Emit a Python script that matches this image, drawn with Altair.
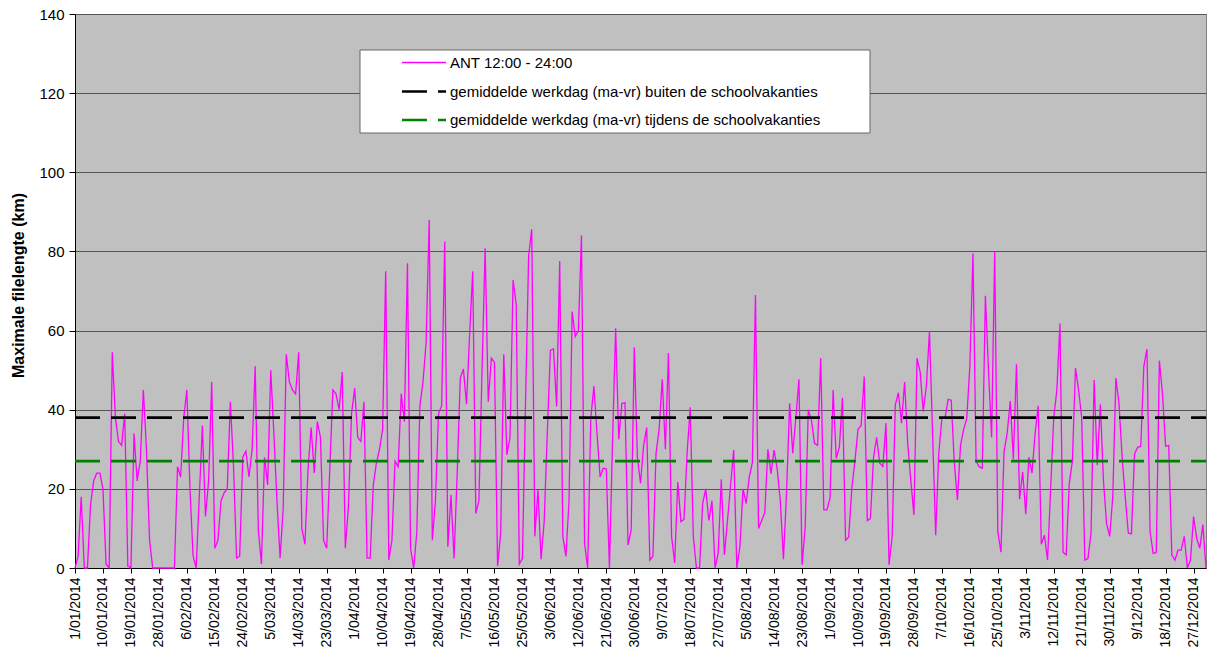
import altair as alt
import pandas as pd

# Daily maximum queue length (km), Antwerp 12:00 - 24:00, 2014, per month
ant_jan = [0, 3, 18, 0, 0, 16, 22, 24, 24, 20, 1, 0, 54.5, 38, 32, 31, 39, 0.5, 0, 34,
           22, 27, 45, 30, 7, 0, 0, 0, 0, 0, 0]
ant_feb = [0, 0, 25.6, 23, 38, 45, 20, 3, 0, 18, 36, 13, 22, 47, 5, 7, 17, 19, 20, 42,
           26, 2.5, 3, 28, 29.5, 23, 30, 51]
ant_mar = [9.6, 1, 28, 21, 50, 34, 17, 2.5, 15, 54, 47, 45, 44, 54.5, 10, 6, 25, 35.5, 24, 37,
           33, 7, 5, 25, 45, 44, 40, 49.5, 5, 15.5, 39]
ant_apr = [45.4, 33, 32, 42, 2.5, 2.5, 21, 26.5, 30, 35, 75, 2, 7, 27, 25.6, 44, 37, 77, 5, 0,
           9, 41, 47, 57, 88, 7, 17, 39, 41, 82.5]
ant_may = [5.4, 18.5, 2.4, 24, 48, 50.3, 41.4, 59, 75, 13.8, 17, 50, 80.8, 42, 53, 52, 0.5, 8.8, 54, 28.6,
           33, 72.8, 66.5, 1, 2.4, 42, 79, 85.6, 8, 19.7, 2.2]
ant_jun = [11.7, 34, 55, 55.4, 40.8, 77.6, 8, 2.9, 17, 64.8, 58.5, 60, 84, 6.2, 0, 37.8, 46, 34, 23, 25.2,
           25, 0, 32, 60.6, 32.5, 41.6, 41.8, 5.8, 9.6, 55.8]
ant_jul = [28, 21.4, 31, 35.5, 2, 3, 29, 35, 47.7, 30, 54.3, 8, 1.3, 21.7, 11.7, 12.3, 29, 40.6, 8, 0,
           0, 16.3, 20, 12, 17, 0, 3.7, 22.4, 3.3, 12, 21]
ant_aug = [29.8, 0, 5.4, 20, 16.3, 23, 26.6, 69, 10, 12, 14, 30, 23.8, 29.8, 25, 17, 2.2, 19, 41.6, 29,
           38, 47.7, 0.8, 10.4, 40, 37.4, 31.5, 31, 53, 14.7, 14.7]
ant_sep = [17.6, 45, 27.7, 30.5, 43, 7, 7.8, 20, 27, 35, 36, 48.4, 12, 12.5, 28, 33, 26.5, 25.6, 36.6, 0.8,
           8, 41.2, 44.3, 36.6, 47, 31.5, 22, 13.4, 53, 49.6]
ant_oct = [39.5, 46, 59.7, 34, 8.3, 29, 37.8, 37.8, 42.6, 42.4, 26.5, 17.2, 31, 35, 37.8, 51, 79.5, 27, 25.6, 25.2,
           68.8, 50, 33, 80, 9.2, 4, 29.4, 34, 42.2, 27.5, 51.5]
ant_nov = [17.4, 24.3, 13.6, 28, 24, 34, 41, 6, 8.3, 2, 20, 38, 45, 61.8, 4, 3.3, 21.4, 27, 50.5, 45,
           38, 2, 2.4, 8.8, 47.5, 26, 41.4, 22, 11.3, 8]
ant_dec = [18, 48, 41.6, 28, 18, 8.8, 8.6, 28.8, 30.5, 30.7, 51, 55.3, 9.2, 3.7, 3.9, 52.4, 44, 30.8, 31, 3.3,
           2, 4.5, 4.5, 8, 0, 2, 13, 7.5, 5, 11, 0]

# Average working day (Mon-Fri) levels
avg_outside_holidays = 38
avg_during_holidays = 27

series_names = [
    "ANT 12:00 - 24:00",
    "gemiddelde werkdag (ma-vr) buiten de schoolvakanties",
    "gemiddelde werkdag (ma-vr) tijdens de schoolvakanties",
]
series_colors = ["#FF00FF", "#000000", "#008000"]
series_dashes = [[1, 0], [25, 11], [25, 11]]
series_widths = [1.3, 2.7, 2.7]

tick_labels = [
    "1/01/2014", "10/01/2014", "19/01/2014", "28/01/2014", "6/02/2014", "15/02/2014",
    "24/02/2014", "5/03/2014", "14/03/2014", "23/03/2014", "1/04/2014", "10/04/2014",
    "19/04/2014", "28/04/2014", "7/05/2014", "16/05/2014", "25/05/2014", "3/06/2014",
    "12/06/2014", "21/06/2014", "30/06/2014", "9/07/2014", "18/07/2014", "27/07/2014",
    "5/08/2014", "14/08/2014", "23/08/2014", "1/09/2014", "10/09/2014", "19/09/2014",
    "28/09/2014", "7/10/2014", "16/10/2014", "25/10/2014", "3/11/2014", "12/11/2014",
    "21/11/2014", "30/11/2014", "9/12/2014", "18/12/2014", "27/12/2014",
]
y_ticks = [0, 20, 40, 60, 80, 100, 120, 140]

ant_values = (ant_jan + ant_feb + ant_mar + ant_apr + ant_may + ant_jun +
              ant_jul + ant_aug + ant_sep + ant_oct + ant_nov + ant_dec)
dates = [d.strftime("%Y-%m-%d") for d in
         pd.date_range("2014-01-01", periods=len(ant_values), freq="D")]

rows = [{"date": d, "km": v, "series": series_names[0]} for d, v in zip(dates, ant_values)]
for name, level in [(series_names[1], avg_outside_holidays),
                    (series_names[2], avg_during_holidays)]:
    rows += [{"date": d, "km": level, "series": name} for d in (dates[0], dates[-1])]
df = pd.DataFrame(rows)


def to_datetime(label):
    day, month, year = (int(p) for p in label.split("/"))
    return alt.DateTime(year=year, month=month, date=day, utc=True)


tick_values = [to_datetime(t) for t in tick_labels]
FONT = "Liberation Sans"

legend = alt.Legend(
    title=None, orient="none", legendX=334, legendY=34,
    symbolType="M-1.63,0H1.63", symbolSize=729, symbolFillColor="transparent",
    labelFont=FONT, labelFontSize=15, labelColor="black", labelOffset=11,
    labelLimit=700, rowPadding=5.5, padding=0,
)

lines = alt.Chart(df).mark_line(strokeJoin="miter").encode(
    x=alt.X(
        "date:T",
        scale=alt.Scale(type="utc", nice=False,
                        domain=[to_datetime("1/01/2014"), to_datetime("31/12/2014")]),
        axis=alt.Axis(
            title=None, values=tick_values, format="%-d/%m/%Y", labelAngle=-90,
            labelFont=FONT, labelFontSize=14, labelColor="black",
            labelOverlap=False, labelFlush=False, labelBound=False,
            tickSize=5, tickColor="black", labelPadding=4,
            domainColor="black", grid=False,
        ),
    ),
    y=alt.Y(
        "km:Q",
        scale=alt.Scale(domain=[0, 140], nice=False),
        axis=alt.Axis(
            values=y_ticks, title="Maximale filelengte (km)",
            titleFont=FONT, titleFontSize=16, titleFontWeight="bold", titleColor="black",
            titleX=-57, titleY=271, titleAngle=-90, titleAlign="center", titleBaseline="middle",
            labelFont=FONT, labelFontSize=15, labelColor="black", labelPadding=5,
            tickSize=6, tickColor="black", domainColor="black",
            grid=True, gridColor="#555555", gridWidth=1,
        ),
    ),
    color=alt.Color("series:N", scale=alt.Scale(domain=series_names, range=series_colors),
                    legend=legend),
    strokeDash=alt.StrokeDash("series:N", scale=alt.Scale(domain=series_names, range=series_dashes),
                              legend=legend),
    strokeWidth=alt.StrokeWidth("series:N",
                                scale=alt.Scale(type="ordinal", domain=series_names, range=series_widths),
                                legend=legend),
    order=alt.Order("date:T"),
)

legend_box = alt.Chart(alt.Data(values=[{}])).mark_rect(
    fill="white", stroke="#666666", strokeWidth=1
).encode(
    x=alt.value(285), x2=alt.value(795), y=alt.value(36), y2=alt.value(119)
)

chart = alt.layer(lines, legend_box).properties(
    width=1131, height=554,
    autosize=alt.AutoSizeParams(type="none"),
    padding={"left": 75, "top": 14, "right": 2, "bottom": 91},
    background="white",
).configure_view(
    fill="#C0C0C0", stroke="#808080", strokeWidth=1
)

chart.save("out.html", embed_options={"renderer": "svg", "actions": False})
